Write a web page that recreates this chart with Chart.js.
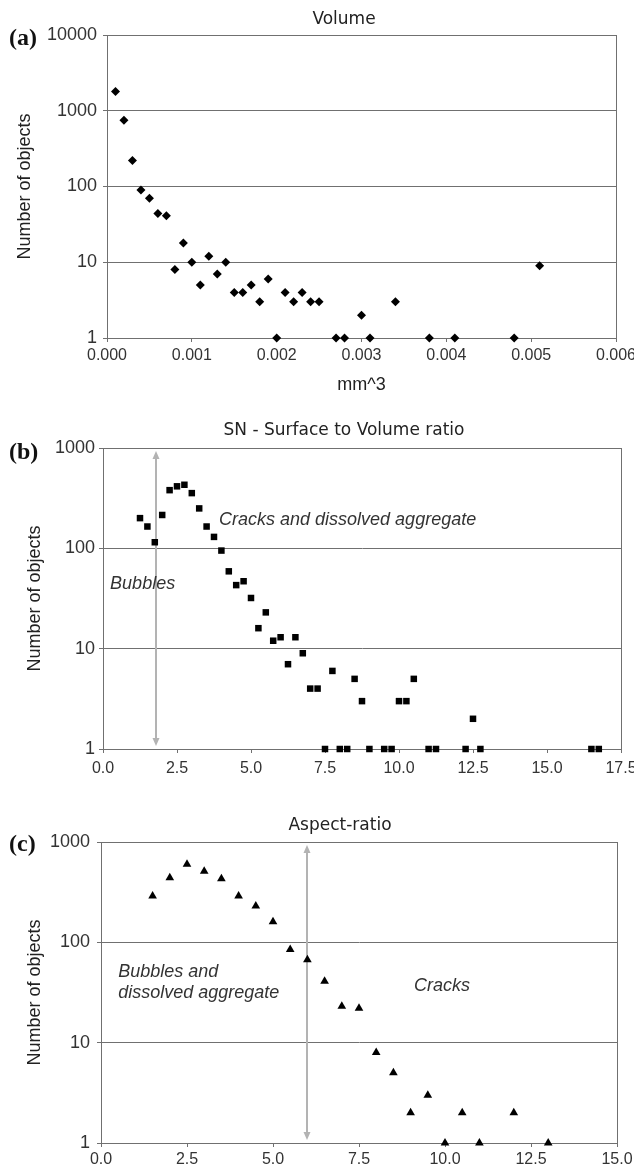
<!DOCTYPE html>
<html>
<head>
<meta charset="utf-8">
<script src="https://cdn.jsdelivr.net/npm/chart.js@4.4.0/dist/chart.umd.min.js"></script>
<style>
  html, body { margin: 0; padding: 0; background: #fff; }
  body { width: 634px; height: 1170px; position: relative; overflow: hidden; }
  .panel { position: absolute; left: 0; width: 634px; }
  .tag { position: absolute; left: 9px; font: bold 24px "Liberation Serif", "Times New Roman", serif; color: #111; line-height: 24px; }
</style>
</head>
<body>
<div class="panel" style="top:0;height:400px"><canvas id="chartA"></canvas></div>
<div class="panel" style="top:400px;height:390px"><canvas id="chartB"></canvas></div>
<div class="panel" style="top:790px;height:380px"><canvas id="chartC"></canvas></div>
<div class="tag" style="top:25px">(a)</div>
<div class="tag" style="top:439px">(b)</div>
<div class="tag" style="top:831px">(c)</div>
<script>
// (a) Volume
const volX = [0.0001, 0.0002, 0.0003, 0.0004, 0.0005, 0.0006, 0.0007, 0.0008, 0.0009, 0.0010,
              0.0011, 0.0012, 0.0013, 0.0014, 0.0015, 0.0016, 0.0017, 0.0018, 0.0019, 0.0020,
              0.0021, 0.0022, 0.0023, 0.0024, 0.0025, 0.0027, 0.0028, 0.0030, 0.0031, 0.0034,
              0.0038, 0.0041, 0.0048, 0.0051];
const volY = [1800, 750, 220, 90, 70, 44, 41, 8, 18, 10,
              5, 12, 7, 10, 4, 4, 5, 3, 6, 1,
              4, 3, 4, 3, 3, 1, 1, 2, 1, 3,
              1, 1, 1, 9];
const volXTicks = [0, 0.001, 0.002, 0.003, 0.004, 0.005, 0.006];
const volYTicks = [1, 10, 100, 1000, 10000];

// (b) SN - surface to volume ratio
const snX = [1.25, 1.5, 1.75, 2.0, 2.25, 2.5, 2.75, 3.0, 3.25, 3.5, 3.75, 4.0, 4.25, 4.5, 4.75, 5.0,
             5.25, 5.5, 5.75, 6.0, 6.25, 6.5, 6.75, 7.0, 7.25, 7.5, 7.75, 8.0, 8.25, 8.5, 8.75, 9.0,
             9.5, 9.75, 10.0, 10.25, 10.5, 11.0, 11.25, 12.25, 12.5, 12.75, 16.5, 16.75];
const snY = [200, 165, 115, 215, 380, 415, 430, 355, 250, 165, 130, 95, 59, 43, 47, 32,
             16, 23, 12, 13, 7, 13, 9, 4, 4, 1, 6, 1, 1, 5, 3, 1,
             1, 1, 3, 3, 5, 1, 1, 1, 2, 1, 1, 1];
const snXTicks = [0, 2.5, 5, 7.5, 10, 12.5, 15, 17.5];
const snYTicks = [1, 10, 100, 1000];

// (c) Aspect-ratio
const arX = [1.5, 2, 2.5, 3, 3.5, 4, 4.5, 5, 5.5, 6, 6.5, 7, 7.5, 8, 8.5, 9, 9.5, 10, 10.5, 11, 12, 13];
const arY = [290, 440, 600, 510, 430, 290, 230, 160, 85, 67, 41, 23, 22, 8, 5, 2, 3, 1, 2, 1, 2, 1];
const arXTicks = [0, 2.5, 5, 7.5, 10, 12.5, 15];
const arYTicks = [1, 10, 100, 1000];

// annotations (data coordinates)
const notesB = {
  arrowX: 1.78,
  labels: [
    { text: 'Bubbles', x: 0.24, y: 44 },
    { text: 'Cracks and dissolved aggregate', x: 3.92, y: 190 }
  ]
};
const notesC = {
  arrowX: 6.0,
  labels: [
    { text: 'Bubbles and', x: 0.5, y: 51 },
    { text: 'dissolved aggregate', x: 0.5, y: 31 },
    { text: 'Cracks', x: 9.1, y: 36.5 }
  ]
};

const SANS = '"Liberation Sans", Arial, sans-serif';
const LINE = '#707070';

const framePlugin = {
  id: 'frame',
  beforeDatasetsDraw(chart) {
    const { ctx, chartArea: a } = chart;
    ctx.save();
    ctx.strokeStyle = LINE;
    ctx.lineWidth = 1;
    ctx.strokeRect(Math.round(a.left) + 0.5, Math.round(a.top) + 0.5,
                   Math.round(a.right - a.left), Math.round(a.bottom - a.top));
    ctx.restore();
  }
};

function notesPlugin(title, tx, ty, notes) {
  return {
    id: 'notes',
    beforeDatasetsDraw(chart) {
      if (!notes) return;
      const { ctx, chartArea: a, scales: { x } } = chart;
      const px = Math.round(x.getPixelForValue(notes.arrowX));
      const t = a.top + 3, b = a.bottom - 3;
      ctx.save();
      ctx.strokeStyle = '#b3b3b3';
      ctx.fillStyle = '#b3b3b3';
      ctx.lineWidth = 2;
      ctx.beginPath(); ctx.moveTo(px, t + 6); ctx.lineTo(px, b - 6); ctx.stroke();
      ctx.beginPath(); ctx.moveTo(px, t); ctx.lineTo(px - 3.5, t + 8); ctx.lineTo(px + 3.5, t + 8); ctx.closePath(); ctx.fill();
      ctx.beginPath(); ctx.moveTo(px, b); ctx.lineTo(px - 3.5, b - 8); ctx.lineTo(px + 3.5, b - 8); ctx.closePath(); ctx.fill();
      ctx.restore();
    },
    afterDatasetsDraw(chart) {
      const { ctx, scales: { x, y } } = chart;
      ctx.save();
      ctx.fillStyle = '#222';
      ctx.textBaseline = 'middle';
      ctx.textAlign = 'center';
      ctx.font = '17px "DejaVu Sans", Verdana, sans-serif';
      ctx.fillText(title, tx, ty);
      if (notes) {
        ctx.textAlign = 'left';
        ctx.fillStyle = '#333';
        ctx.font = 'italic 18px ' + SANS;
        notes.labels.forEach(n => ctx.fillText(n.text, x.getPixelForValue(n.x), y.getPixelForValue(n.y)));
      }
      ctx.restore();
    }
  };
}

function logChart(id, o) {
  const points = o.xs.map((v, i) => ({ x: v, y: o.ys[i] }));
  return new Chart(document.getElementById(id), {
    type: 'scatter',
    data: {
      datasets: [{
        data: points,
        pointStyle: o.style,
        pointRadius: o.radius,
        pointHoverRadius: o.radius,
        backgroundColor: '#000',
        borderColor: '#000',
        borderWidth: 0,
        clip: false
      }]
    },
    options: {
      responsive: true,
      maintainAspectRatio: false,
      animation: false,
      events: [],
      layout: { padding: { left: 0, right: o.padRight, top: o.padTop, bottom: 0 } },
      plugins: { legend: { display: false }, tooltip: { enabled: false }, title: { display: false } },
      scales: {
        x: {
          type: 'linear',
          min: o.xTicks[0],
          max: o.xTicks[o.xTicks.length - 1],
          afterBuildTicks: s => { s.ticks = o.xTicks.map(v => ({ value: v })); },
          afterFit: s => { s.height = o.xHeight; s.paddingRight = 0; },
          ticks: {
            autoSkip: false, maxRotation: 0, padding: o.xPad, color: '#333',
            font: { family: SANS, size: 16 },
            callback: v => Number(v).toFixed(o.xDigits)
          },
          grid: { drawOnChartArea: false, tickLength: 4, color: LINE },
          border: { color: LINE },
          title: o.xTitle
            ? { display: true, text: o.xTitle, color: '#222', font: { family: SANS, size: 18 }, padding: { top: 0, bottom: 4 } }
            : { display: false }
        },
        y: {
          type: 'logarithmic',
          min: o.yTicks[0],
          max: o.yTicks[o.yTicks.length - 1],
          afterBuildTicks: s => { s.ticks = o.yTicks.map(v => ({ value: v })); },
          afterFit: s => { s.width = o.yWidth; },
          ticks: {
            padding: o.yPad, color: '#333',
            font: { family: SANS, size: 18 },
            callback: v => String(v)
          },
          grid: { color: LINE, tickLength: 4 },
          border: { color: LINE },
          title: {
            display: true, text: 'Number of objects', color: '#222',
            font: { family: SANS, size: 18 }, padding: { top: o.yTitlePad, bottom: 0 }
          }
        }
      }
    },
    plugins: [framePlugin, notesPlugin(o.title, o.titleX, o.titleY, o.notes)]
  });
}

logChart('chartA', {
  xs: volX, ys: volY, xTicks: volXTicks, yTicks: volYTicks, xDigits: 3,
  style: 'rectRot', radius: 4.5,
  title: 'Volume', titleX: 344, titleY: 20, xTitle: 'mm^3',
  padTop: 35, padRight: 18, yWidth: 107, xHeight: 62,
  xPad: 4, yPad: 6, yTitlePad: 14
});

logChart('chartB', {
  xs: snX, ys: snY, xTicks: snXTicks, yTicks: snYTicks, xDigits: 1,
  style: 'rect', radius: 4.6,
  title: 'SN - Surface to Volume ratio', titleX: 344, titleY: 31, notes: notesB,
  padTop: 48, padRight: 13, yWidth: 103, xHeight: 41,
  xPad: 6, yPad: 4, yTitlePad: 24
});

logChart('chartC', {
  xs: arX, ys: arY, xTicks: arXTicks, yTicks: arYTicks, xDigits: 1,
  style: 'triangle', radius: 5,
  title: 'Aspect-ratio', titleX: 340, titleY: 36, notes: notesC,
  padTop: 52, padRight: 17, yWidth: 101, xHeight: 27,
  xPad: 3, yPad: 7, yTitlePad: 24
});
</script>
</body>
</html>
